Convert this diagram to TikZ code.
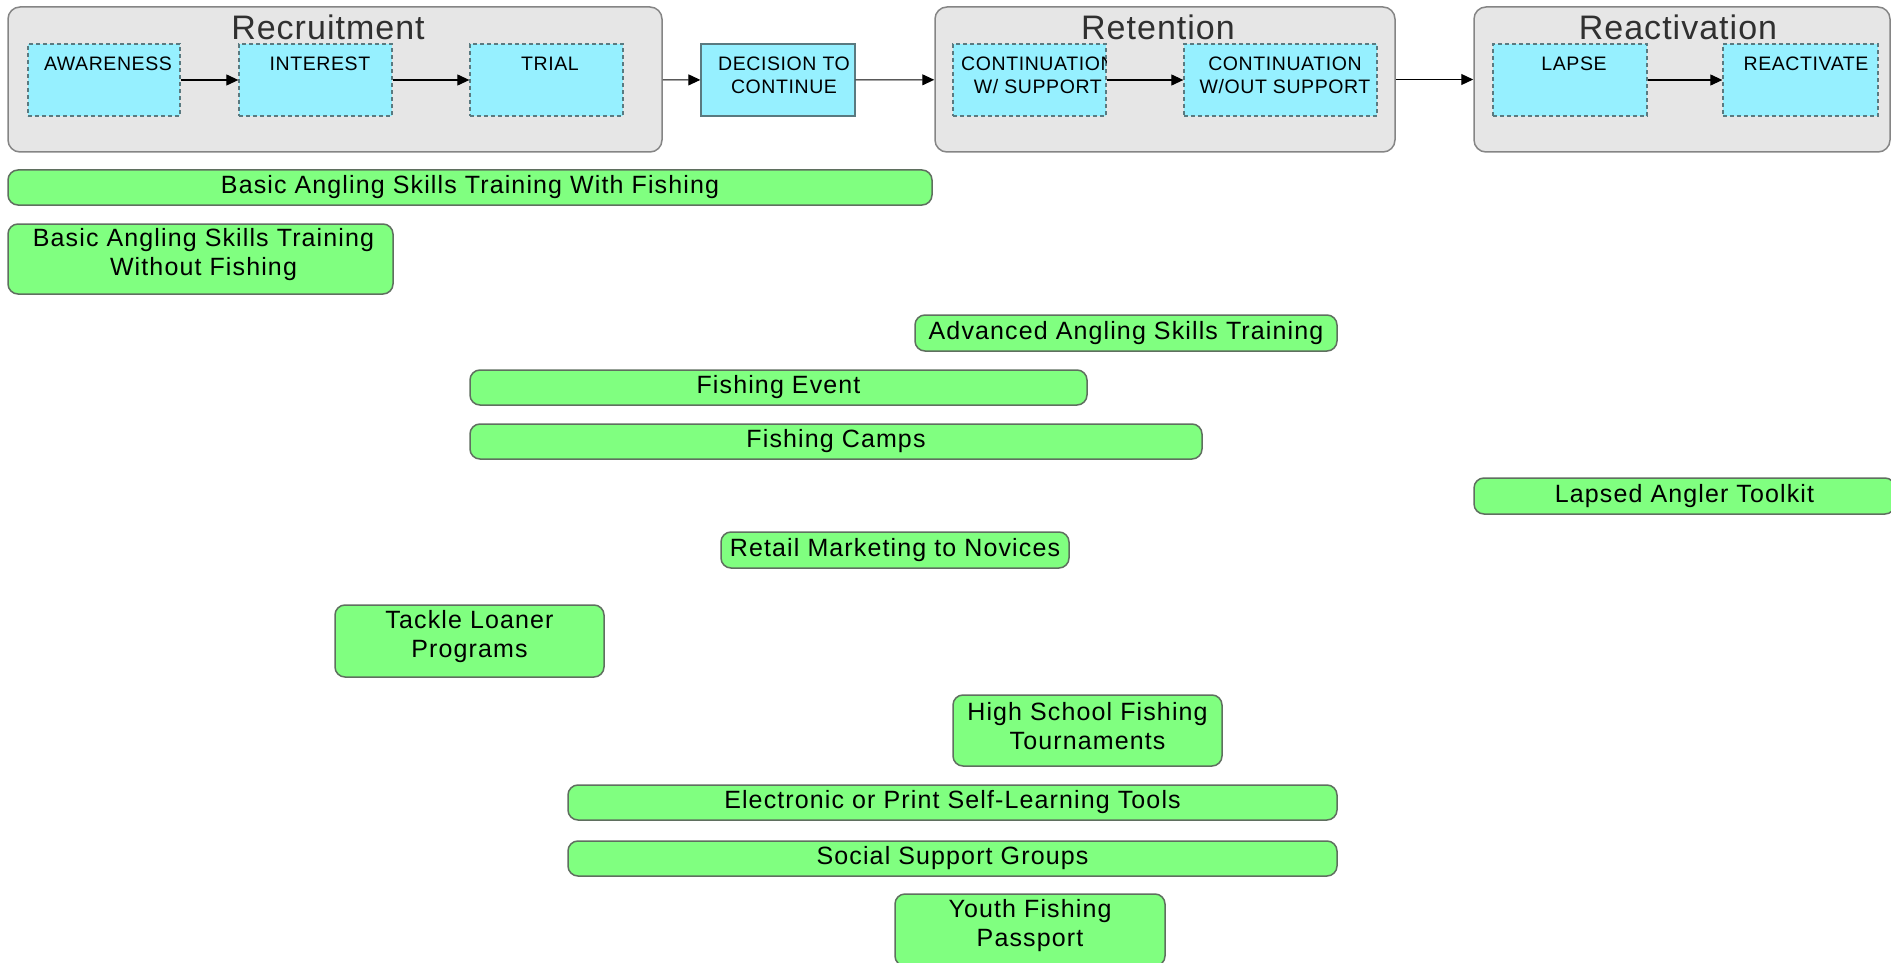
\documentclass[tikz,border=0pt]{standalone}
\usepackage{fontspec}
\setmainfont[LetterSpace=4]{Liberation Sans}
\newfontfamily\titlefont[LetterSpace=3]{Liberation Sans}
\newfontfamily\stagefont[LetterSpace=3]{Liberation Sans}
\newfontfamily\progfont[LetterSpace=4.5]{Liberation Sans}
\usetikzlibrary{arrows.meta}
\definecolor{grayfill}{HTML}{E6E6E6}
\definecolor{grayline}{HTML}{858585}
\definecolor{cyanfill}{HTML}{96F0FF}
\definecolor{cyanline}{HTML}{5A7A80}
\definecolor{greenfill}{HTML}{80FF80}
\definecolor{greenline}{HTML}{5F6F5F}
\definecolor{titlecol}{HTML}{303030}
\begin{document}
\begin{tikzpicture}[x=1pt,y=-1pt,
  phase/.style={draw=grayline, fill=grayfill, line width=1.5pt, rounded corners=12pt, inner sep=0pt, minimum height=145pt},
  ptitle/.style={anchor=base, inner sep=0pt, text=titlecol, font=\titlefont\fontsize{34}{38}\selectfont},
  stage/.style={draw=cyanline, fill=cyanfill, dash pattern=on 4pt off 3pt, line width=1.3pt, inner sep=0pt, minimum height=72pt},
  decbox/.style={draw=cyanline, fill=cyanfill, line width=1.3pt, inner sep=0pt, minimum height=72pt},
  stext/.style={anchor=north, inner sep=0pt, align=center, font=\stagefont\fontsize{19.5}{23}\selectfont},
  prog/.style={draw=greenline, fill=greenfill, line width=1.5pt, rounded corners=10pt, inner sep=0pt, align=center, font=\progfont\fontsize{25}{29}\selectfont},
  ptext/.style={inner sep=0pt, align=center, font=\progfont\fontsize{25}{29}\selectfont},
  flow/.style={-{Triangle[length=12pt,width=11pt]}, line width=1.1pt, black}]
\useasboundingbox (0,0) rectangle (1891,963);
\clip (0,0) rectangle (1891,963);

% phases
\node[phase, minimum width=654pt] (rec) at (335,79.5) {};
\node[phase, minimum width=460pt] (ret) at (1165,79.5) {};
\node[phase, minimum width=416pt] (rea) at (1682,79.5) {};
\node[ptitle] (rect) at (328,40) {Recruitment};
\node[ptitle] (rett) at (1158,40) {Retention};
\node[ptitle] (reat) at (1678,40) {Reactivation};

% stages
\node[stage, minimum width=152pt] (aw) at (104,80) {};
\node[stage, minimum width=153pt] (in) at (315.5,80) {};
\node[stage, minimum width=153pt] (tr) at (546.5,80) {};
\node[decbox, minimum width=154pt] (dec) at (778,80) {};
\node[stage, minimum width=153pt] (c1) at (1029.5,80) {};
\node[stage, minimum width=193pt] (c2) at (1280.5,80) {};
\node[stage, minimum width=154pt] (la) at (1570,80) {};
\node[stage, minimum width=155pt] (rv) at (1800.5,80) {};

\node[stext] (awt) at (108,57) {AWARENESS};
\node[stext] (int) at (320,57) {INTEREST};
\node[stext] (trt) at (550,57) {TRIAL};
\node[stext] (dect) at (784,57) {DECISION TO\\CONTINUE};
\begin{scope}
  \clip (c1.north west) rectangle (c1.south east);
  \node[stext, anchor=north west] (c1t) at (961,57) {CONTINUATION\\W/ SUPPORT};
\end{scope}
\node[stext] (c2t) at (1285,57) {CONTINUATION\\W/OUT SUPPORT};
\node[stext] (lat) at (1574,57) {LAPSE};
\node[stext] (rvt) at (1806,57) {REACTIVATE};

% flow arrows
\draw[flow] (aw) -- (in);
\draw[flow] (in) -- (tr);
\draw[flow] (rec) -- (dec);
\draw[flow] (dec) -- (ret);
\draw[flow] (c1) -- (c2);
\draw[flow] (ret) -- (rea);
\draw[flow] (la) -- (rv);

% programs
\node[prog, minimum width=924pt, minimum height=35pt] (g1) at (470,187.5) {Basic Angling Skills Training With Fishing};
\node[prog, minimum width=385pt, minimum height=70pt] (g2) at (200.5,259) {};
\node[ptext] (g2t) at ([xshift=3pt,yshift=4pt]g2.center) {Basic Angling Skills Training\\Without Fishing};
\node[prog, minimum width=422pt, minimum height=36pt] (g3) at (1126,333) {Advanced Angling Skills Training};
\node[prog, minimum width=617pt, minimum height=35pt] (g4) at (778.5,387.5) {Fishing Event};
\node[prog, minimum width=732pt, minimum height=35pt] (g5) at (836,441.5) {Fishing Camps};
\node[prog, minimum width=421pt, minimum height=36pt] (g6) at (1684.5,496) {Lapsed Angler Toolkit};
\node[prog, minimum width=348pt, minimum height=36pt] (g7) at (895,550) {Retail Marketing to Novices};
\node[prog, minimum width=269pt, minimum height=72pt] (g8) at (469.5,641) {};
\node[ptext] (g8t) at ([yshift=4pt]g8.center) {Tackle Loaner\\Programs};
\node[prog, minimum width=269pt, minimum height=71pt] (g9) at (1087.5,730.5) {};
\node[ptext] (g9t) at ([yshift=4pt]g9.center) {High School Fishing\\Tournaments};
\node[prog, minimum width=769pt, minimum height=35pt] (g10) at (952.5,802.5) {Electronic or Print Self-Learning Tools};
\node[prog, minimum width=769pt, minimum height=35pt] (g11) at (952.5,858.5) {Social Support Groups};
\node[prog, minimum width=270pt, minimum height=72pt] (g12) at (1030,930) {};
\node[ptext] (g12t) at ([yshift=4pt]g12.center) {Youth Fishing\\Passport};
\end{tikzpicture}
\end{document}
